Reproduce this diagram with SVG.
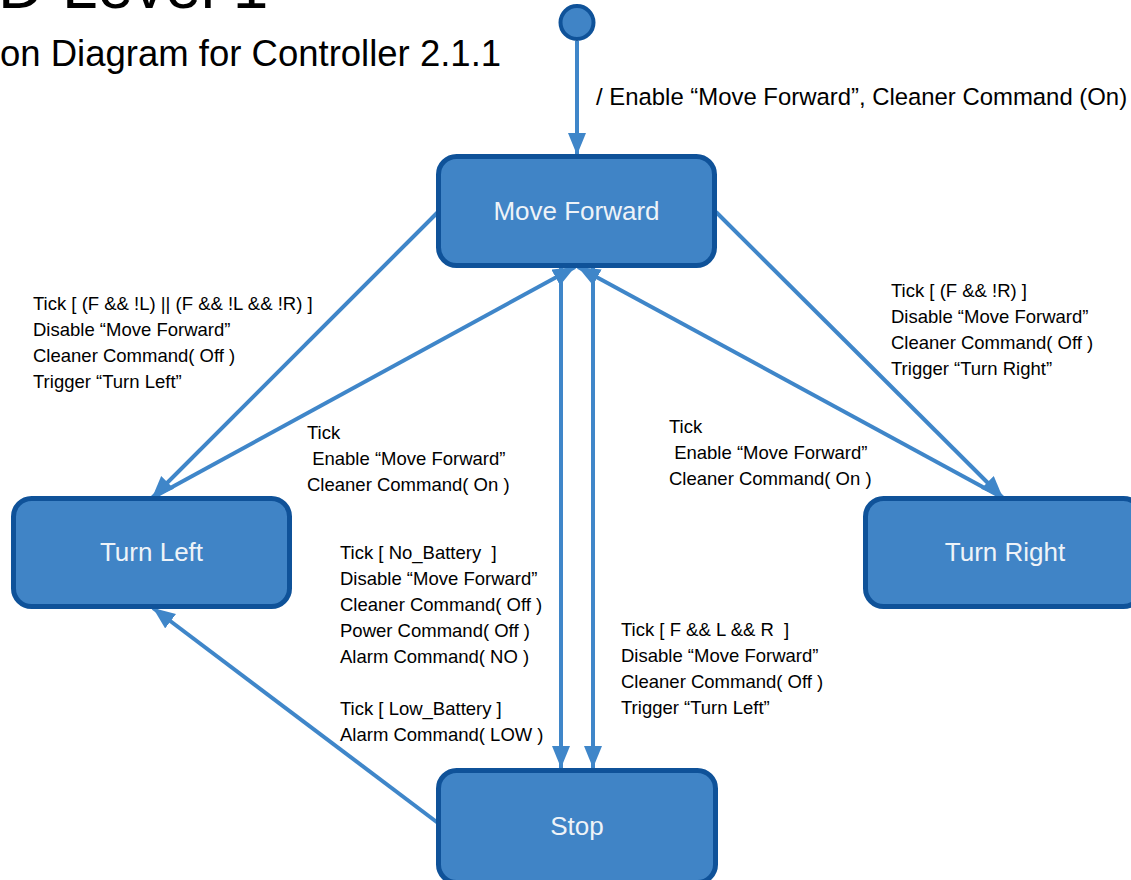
<svg xmlns="http://www.w3.org/2000/svg" width="1131" height="880" viewBox="0 0 1131 880">
<style>
.node rect{fill:#4084c6;stroke:#0f5299;stroke-width:5}
.node text{font-family:"Liberation Sans",Arial,sans-serif;font-size:26px;fill:#eef3f8;text-anchor:middle}
.conn path{fill:none;stroke:#3f86c9;stroke-width:4}
.lbl{font-family:"Liberation Sans",Arial,sans-serif;font-size:18.5px;fill:#000;white-space:pre}
.big{font-size:23.9px}
.title{font-family:"Liberation Sans",Arial,sans-serif;fill:#000}
</style>
<defs>
<marker id="ah" markerUnits="userSpaceOnUse" markerWidth="24" markerHeight="20" refX="22" refY="9" orient="auto">
<path d="M0,0 L22,9 L0,18 z" fill="#3f86c9"/>
</marker>
</defs>
<rect width="1131" height="880" fill="#fff"/>
<text class="title" x="-2" y="8" font-size="64">D Level 1</text>
<text class="title" x="0" y="66" font-size="36.5">on Diagram for Controller 2.1.1</text>

<g id="connectors" class="conn">
<path d="M577,41 L577,155" marker-end="url(#ah)"/>
<path d="M438,212 L152,498" marker-end="url(#ah)"/>
<path d="M152,498 L575,267" marker-end="url(#ah)"/>
<path d="M716,212 L1003,498" marker-end="url(#ah)"/>
<path d="M1003,498 L578,267" marker-end="url(#ah)"/>
<path d="M561,267 L561,768" marker-end="url(#ah)"/>
<path d="M593,267 L593,768" marker-end="url(#ah)"/>
<path d="M438,823 L153,608" marker-end="url(#ah)"/>
</g>

<g id="initial">
<circle cx="577" cy="22.5" r="16.5" fill="#4084c6" stroke="#0f5299" stroke-width="4"/>
</g>
<g id="move-forward" class="node">
<rect x="438.5" y="156.5" width="276" height="109" rx="18"/>
<text x="576.5" y="219.5">Move Forward</text>
</g>
<g id="turn-left" class="node">
<rect x="13.5" y="498.5" width="276" height="108" rx="18"/>
<text x="151.5" y="561">Turn Left</text>
</g>
<g id="turn-right" class="node">
<rect x="865.5" y="498.5" width="276" height="108" rx="18"/>
<text x="1005" y="561">Turn Right</text>
</g>
<g id="stop" class="node">
<rect x="438.5" y="770.5" width="277" height="112" rx="18"/>
<text x="577" y="835">Stop</text>
</g>

<g id="labels">
<text class="lbl big" x="596" y="105">/ Enable “Move Forward”, Cleaner Command (On)</text>
<text class="lbl"><tspan x="33" y="310">Tick [ (F &amp;&amp; !L) || (F &amp;&amp; !L &amp;&amp; !R) ]</tspan><tspan x="33" y="336">Disable “Move Forward”</tspan><tspan x="33" y="362">Cleaner Command( Off )</tspan><tspan x="33" y="388">Trigger “Turn Left”</tspan></text>
<text class="lbl"><tspan x="307" y="439">Tick</tspan><tspan x="307" y="465"> Enable “Move Forward”</tspan><tspan x="307" y="491">Cleaner Command( On )</tspan></text>
<text class="lbl"><tspan x="891" y="297">Tick [ (F &amp;&amp; !R) ]</tspan><tspan x="891" y="323">Disable “Move Forward”</tspan><tspan x="891" y="349">Cleaner Command( Off )</tspan><tspan x="891" y="375">Trigger “Turn Right”</tspan></text>
<text class="lbl"><tspan x="669" y="433">Tick</tspan><tspan x="669" y="459"> Enable “Move Forward”</tspan><tspan x="669" y="485">Cleaner Command( On )</tspan></text>
<text class="lbl"><tspan x="340" y="559">Tick [ No_Battery  ]</tspan><tspan x="340" y="585">Disable “Move Forward”</tspan><tspan x="340" y="611">Cleaner Command( Off )</tspan><tspan x="340" y="637">Power Command( Off )</tspan><tspan x="340" y="663">Alarm Command( NO )</tspan></text>
<text class="lbl"><tspan x="340" y="715">Tick [ Low_Battery ]</tspan><tspan x="340" y="741">Alarm Command( LOW )</tspan></text>
<text class="lbl"><tspan x="621" y="636">Tick [ F &amp;&amp; L &amp;&amp; R  ]</tspan><tspan x="621" y="662">Disable “Move Forward”</tspan><tspan x="621" y="688">Cleaner Command( Off )</tspan><tspan x="621" y="714">Trigger “Turn Left”</tspan></text>
</g>
</svg>
